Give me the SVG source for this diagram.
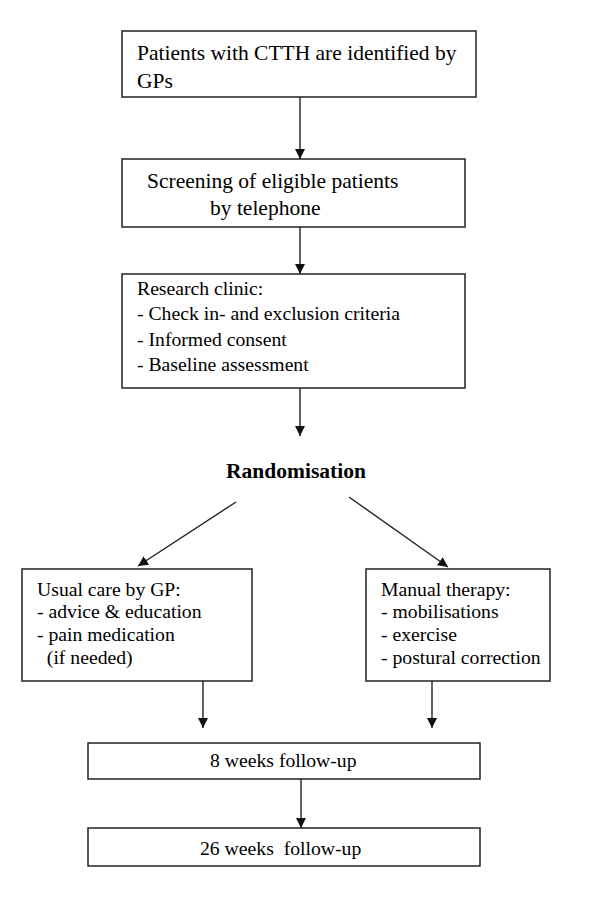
<svg xmlns="http://www.w3.org/2000/svg" width="600" height="911" viewBox="0 0 600 911">
<style>
.box{fill:#fff;stroke:#222;stroke-width:1.5}
.t{font-family:"Liberation Serif","Times New Roman",serif;font-size:19.7px;fill:#000;white-space:pre}
.tl{font-size:21.5px}
.b{font-weight:bold;font-size:21.5px}
.c{stroke:#222;stroke-width:1.4;fill:none;marker-end:url(#ah)}
</style>
<defs>
<marker id="ah" viewBox="0 0 10 10" refX="10" refY="5" markerWidth="10" markerHeight="10" markerUnits="userSpaceOnUse" orient="auto">
<path d="M0,0 L10,5 L0,10 z" fill="#111"/>
</marker>
</defs>
<rect width="600" height="911" fill="#fff"/>
<g id="connectors">
<line class="c" x1="300" y1="97" x2="300" y2="159"/>
<line class="c" x1="300" y1="227" x2="300" y2="274"/>
<line class="c" x1="300" y1="388" x2="300" y2="436"/>
<line class="c" x1="236" y1="502" x2="138" y2="566"/>
<line class="c" x1="349" y1="497" x2="448" y2="567"/>
<line class="c" x1="203" y1="681" x2="203" y2="728"/>
<line class="c" x1="432" y1="681" x2="432" y2="728"/>
<line class="c" x1="301" y1="779" x2="301" y2="828"/>
</g>
<g id="n1">
<rect class="box" x="122" y="31" width="354" height="66"/>
<text class="t tl" x="137" y="60">Patients with CTTH are identified by</text>
<text class="t tl" x="137" y="88">GPs</text>
</g>
<g id="n2">
<rect class="box" x="122" y="159" width="343" height="68"/>
<text class="t tl" x="147" y="188">Screening of eligible patients</text>
<text class="t tl" x="210" y="215">by telephone</text>
</g>
<g id="n3">
<rect class="box" x="122" y="274" width="343" height="114"/>
<text class="t" x="137" y="295">Research clinic:</text>
<text class="t" x="137" y="320">- Check in- and exclusion criteria</text>
<text class="t" x="137" y="346">- Informed consent</text>
<text class="t" x="137" y="371">- Baseline assessment</text>
</g>
<g id="n4">
<text class="t b" x="296" y="478" text-anchor="middle">Randomisation</text>
</g>
<g id="n5">
<rect class="box" x="22" y="569" width="230" height="112"/>
<text class="t" x="37" y="596">Usual care by GP:</text>
<text class="t" x="37" y="618">- advice &amp; education</text>
<text class="t" x="37" y="641">- pain medication</text>
<text class="t" x="37" y="664">  (if needed)</text>
</g>
<g id="n6">
<rect class="box" x="366" y="569" width="184" height="112"/>
<text class="t" x="381" y="596">Manual therapy:</text>
<text class="t" x="381" y="618">- mobilisations</text>
<text class="t" x="381" y="641">- exercise</text>
<text class="t" x="381" y="664">- postural correction</text>
</g>
<g id="n7">
<rect class="box" x="88" y="743" width="392" height="36"/>
<text class="t" x="210" y="767">8 weeks follow-up</text>
</g>
<g id="n8">
<rect class="box" x="88" y="828" width="392" height="38"/>
<text class="t" x="200" y="855">26 weeks  follow-up</text>
</g>
</svg>
